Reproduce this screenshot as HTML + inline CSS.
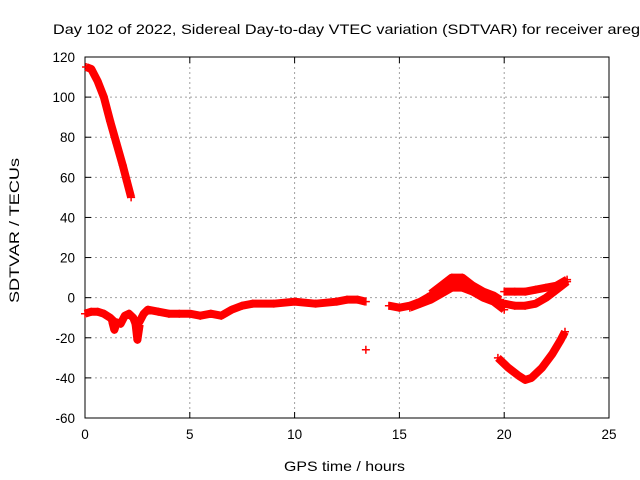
<!DOCTYPE html>
<html><head><meta charset="utf-8"><style>
html,body{margin:0;padding:0;background:#fff;}
svg{display:block;font-family:"Liberation Sans",sans-serif;}
</style></head><body>
<svg id="chart" width="640" height="480" viewBox="0 0 640 480">
<text x="53" y="34" font-size="14" textLength="596" lengthAdjust="spacingAndGlyphs" fill="#000">Day 102 of 2022, Sidereal Day-to-day VTEC variation (SDTVAR) for receiver aregu</text>
<g id="grid"></g>
<g id="axes"></g>
<g id="series"></g>
<text x="284" y="471" font-size="14" textLength="121" lengthAdjust="spacingAndGlyphs">GPS time / hours</text>
<text transform="translate(19,303) rotate(-90)" font-size="14" textLength="145" lengthAdjust="spacingAndGlyphs">SDTVAR / TECUs</text>
</svg>
<script>
const xTicks=[0,5,10,15,20,25];
const yTicks=[120,100,80,60,40,20,0,-20,-40,-60];
const seriesA=[[0.05,115],[0.3,114],[0.6,108],[0.9,100],[1.2,88],[1.5,77],[1.8,66],[2.0,58],[2.2,50]];
const seriesB=[[0,-8],[0.3,-7],[0.6,-7],[0.9,-8],[1.2,-10],[1.4,-12],[1.7,-13],[1.9,-9],[2.1,-8],[2.3,-10],[2.45,-14],[2.6,-12],[2.8,-8],[3,-6],[3.5,-7],[4,-8],[4.5,-8],[5,-8],[5.5,-9],[6,-8],[6.5,-9],[7,-6],[7.5,-4],[8,-3],[9,-3],[10,-2],[11,-3],[12,-2],[12.5,-1],[13,-1],[13.4,-2]];
const seriesB2=[[1.3,-12],[1.4,-16],[1.5,-13]];
const seriesB3=[[2.4,-12],[2.5,-21],[2.6,-14]];
const seriesC1=[[14.5,-4],[15,-5],[15.5,-4],[16,-2],[16.5,1],[17,4],[17.5,7],[18,7],[18.5,5],[19,2],[19.5,0],[20,-4]];
const seriesC2=[[15.5,-5],[16,-3],[16.5,-1],[17,2],[17.5,5],[18,5],[18.5,3],[19,0],[19.5,-2],[20,-6]];
const seriesC3=[[16.5,2],[17,6],[17.5,10],[18,10],[18.5,6],[19,3],[19.5,1],[19.8,-1]];
const seriesD1=[[20,-3],[20.5,-4],[21,-4],[21.5,-3],[22,0],[22.5,4],[23,8]];
const seriesD2=[[20,3],[20.5,3],[21,3],[21.5,4],[22,5],[22.5,6],[23,9]];
const seriesE=[[19.7,-30],[20.2,-35],[20.7,-39],[21,-41],[21.3,-40],[21.8,-35],[22.3,-28],[22.7,-21],[22.9,-17]];
const outliers=[[13.4,-26]];
const allSeries=[seriesA,seriesB,seriesB2,seriesB3,seriesC1,seriesC2,seriesC3,seriesD1,seriesD2,seriesE];

const L=85,R=609,T=57,B=418,xMin=0,xMax=25,yMin=-60,yMax=120;
const sx=v=>L+(v-xMin)/(xMax-xMin)*(R-L);
const sy=v=>B-(v-yMin)/(yMax-yMin)*(B-T);
const NS="http://www.w3.org/2000/svg";
function mk(tag,attrs,parent){const e=document.createElementNS(NS,tag);for(const k in attrs)e.setAttribute(k,attrs[k]);parent.appendChild(e);return e;}
const grid=document.getElementById('grid'),axes=document.getElementById('axes'),ser=document.getElementById('series');
xTicks.forEach(t=>{
  const x=sx(t);
  if(t>xMin&&t<xMax){const g=mk('line',{x1:x,x2:x,y1:T,y2:B,stroke:'#a0a0a0','stroke-dasharray':'2,3'},grid);
  
  }
  mk('line',{x1:x,x2:x,y1:B,y2:B-6,stroke:'#000'},axes);
  mk('line',{x1:x,x2:x,y1:T,y2:T+6,stroke:'#000'},axes);
  const tx=mk('text',{x:x,y:B+21,'font-size':'13.5','text-anchor':'middle'},axes);
  tx.textContent=t;
  
  
});
yTicks.forEach(t=>{
  const y=sy(t);
  if(t>yMin&&t<yMax){const g=mk('line',{x1:L,x2:R,y1:y,y2:y,stroke:'#a0a0a0','stroke-dasharray':'2,3'},grid);
  
  }
  mk('line',{x1:L,x2:L+6,y1:y,y2:y,stroke:'#000'},axes);
  mk('line',{x1:R,x2:R-6,y1:y,y2:y,stroke:'#000'},axes);
  const tx=mk('text',{x:L-10,y:y+5,'font-size':'13.5','text-anchor':'end'},axes);
  tx.textContent=t;
  
  
});
const fr=mk('rect',{x:L,y:T,width:R-L,height:B-T,fill:'none',stroke:'#000'},axes);


allSeries.forEach(s=>{
  const p=mk('polyline',{points:s.map(d=>sx(d[0])+','+sy(d[1])).join(' '),fill:'none',stroke:'#f00','stroke-width':8,'stroke-linejoin':'round'},ser);
  
  
});
allSeries.concat([outliers]).forEach(s=>s.forEach(d=>{
  const x=sx(d[0]),y=sy(d[1]);
  const m=mk('path',{d:`M${x-4},${y}H${x+4}M${x},${y-4}V${y+4}`,stroke:'#f00','stroke-width':1.5},ser);
  
  
}));
</script>
</body></html>
